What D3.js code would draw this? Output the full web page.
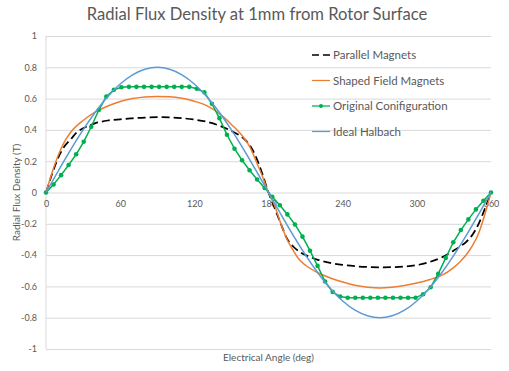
<!DOCTYPE html>
<html>
<head>
<meta charset="utf-8">
<script src="https://cdn.jsdelivr.net/npm/d3@7"></script>
<style>
  body { margin: 0; background: #fff; }
  text { font-family: Lato, "Open Sans", sans-serif; fill: #595959; }
</style>
</head>
<body>
<svg id="chart"></svg>
<script>
const width = 509;
const height = 371;
const plotLeft = 46, plotRight = 491, plotTop = 36, plotBottom = 349;

const xTicks = [0, 60, 120, 180, 240, 300, 360];
const yTicks = [-1, -0.8, -0.6, -0.4, -0.2, 0, 0.2, 0.4, 0.6, 0.8, 1];

// Parallel Magnets
const parallelAngle = [0, 5, 10, 15, 20, 25, 30, 40, 50, 60, 70, 80, 90, 100, 110, 120, 130, 140, 150, 155, 160, 165, 170, 175, 180,
    185, 190, 195, 200, 205, 210, 220, 230, 240, 250, 260, 270, 280, 290, 300, 310, 320, 330, 335, 340, 345, 350, 355, 360];
const parallelValue = [0, 0.12, 0.225, 0.295, 0.34, 0.385, 0.41, 0.443, 0.46, 0.468, 0.474, 0.479, 0.481, 0.48, 0.475, 0.466, 0.452, 0.428, 0.393, 0.372, 0.345, 0.3, 0.225, 0.12, 0,
    -0.1, -0.2, -0.295, -0.345, -0.378, -0.4, -0.43, -0.45, -0.463, -0.471, -0.476, -0.478, -0.477, -0.473, -0.464, -0.445, -0.415, -0.37, -0.345, -0.315, -0.27, -0.2, -0.105, 0];

// Shaped Field Magnets
const shapedAngle = [0, 5, 10, 15, 20, 30, 40, 50, 60, 70, 80, 90, 100, 110, 120, 130, 140, 150, 160, 165, 170, 175, 180,
    185, 190, 195, 200, 205, 210, 220, 230, 240, 250, 260, 270, 280, 290, 300, 310, 320, 330, 335, 340, 345, 350, 355, 360];
const shapedValue = [0, 0.13, 0.24, 0.325, 0.385, 0.46, 0.515, 0.553, 0.582, 0.6, 0.611, 0.614, 0.612, 0.602, 0.583, 0.555, 0.505, 0.435, 0.35, 0.29, 0.2, 0.105, 0,
    -0.085, -0.2, -0.3, -0.37, -0.43, -0.465, -0.513, -0.546, -0.572, -0.593, -0.605, -0.61, -0.605, -0.594, -0.578, -0.557, -0.53, -0.478, -0.442, -0.398, -0.34, -0.26, -0.14, 0];

// Original Conifiguration (60 samples)
const originalAngle = [0, 6.1, 12.2, 18.3, 24.4, 30.5, 36.6, 42.7, 48.8, 54.9, 61.0, 67.1, 73.2, 79.3, 85.4, 91.5, 97.6, 103.7, 109.8, 115.9,
    122.0, 128.1, 134.2, 140.3, 146.4, 152.5, 158.6, 164.7, 170.8, 176.9, 183.1, 189.2, 195.3, 201.4, 207.5, 213.6, 219.7, 225.8, 231.9, 238.0,
    244.1, 250.2, 256.3, 262.4, 268.5, 274.6, 280.7, 286.8, 292.9, 299.0, 305.1, 311.2, 317.3, 323.4, 329.5, 335.6, 341.7, 347.8, 353.9, 360];
const originalValue = [0, 0.051, 0.111, 0.176, 0.244, 0.324, 0.42, 0.527, 0.613, 0.656, 0.673, 0.675, 0.675, 0.675, 0.675, 0.675, 0.675, 0.675, 0.675, 0.675,
    0.663, 0.64, 0.567, 0.475, 0.369, 0.28, 0.206, 0.142, 0.083, 0.029, -0.028, -0.081, -0.14, -0.204, -0.282, -0.372, -0.469, -0.569, -0.635, -0.665,
    -0.673, -0.673, -0.673, -0.673, -0.673, -0.673, -0.673, -0.673, -0.673, -0.673, -0.65, -0.605, -0.52, -0.418, -0.318, -0.24, -0.172, -0.108, -0.053, 0];

// Ideal Halbach
const halbachAngle = [0, 10, 20, 30, 40, 50, 60, 70, 80, 90, 100, 110, 120, 130, 140, 150, 160, 170, 180,
    190, 200, 210, 220, 230, 240, 250, 260, 270, 280, 290, 300, 310, 320, 330, 340, 350, 360];
const halbachValue = [0, 0.139, 0.274, 0.4, 0.514, 0.613, 0.693, 0.752, 0.788, 0.8, 0.788, 0.752, 0.693, 0.613, 0.514, 0.4, 0.274, 0.139, 0,
    -0.139, -0.274, -0.4, -0.514, -0.613, -0.693, -0.752, -0.788, -0.8, -0.788, -0.752, -0.693, -0.613, -0.514, -0.4, -0.274, -0.139, 0];

const series = [
    {name: 'Parallel Magnets', angle: parallelAngle, value: parallelValue, color: '#000000', dash: '8,4', curve: d3.curveMonotoneX},
    {name: 'Shaped Field Magnets', angle: shapedAngle, value: shapedValue, color: '#ed7d31', dash: null, curve: d3.curveMonotoneX},
    {name: 'Original Conifiguration', angle: originalAngle, value: originalValue, color: '#00b050', dash: null, curve: d3.curveLinear, marker: true},
    {name: 'Ideal Halbach', angle: halbachAngle, value: halbachValue, color: '#5b9bd5', dash: null, curve: d3.curveMonotoneX}
];

const svg = d3.select('#chart').attr('width', width).attr('height', height);

const x = d3.scaleLinear().domain([0, 360]).range([plotLeft, plotRight]);
const y = d3.scaleLinear().domain([-1, 1]).range([plotBottom, plotTop]);

// gridlines + y labels
const yAxis = svg.append('g').attr('transform', `translate(${plotLeft}, 0)`)
    .call(d3.axisLeft(y).tickValues(yTicks).tickSize(-(plotRight - plotLeft)).tickPadding(9).tickFormat(d => d));
yAxis.select('.domain').remove();
yAxis.selectAll('line').attr('stroke', '#d9d9d9');
yAxis.selectAll('text').style('font-size', '9px').attr('fill', '#595959');

svg.append('line')
    .attr('x1', plotLeft).attr('x2', plotLeft).attr('y1', plotTop).attr('y2', plotBottom)
    .attr('stroke', '#d9d9d9');

// x labels sit just under the zero line
const xAxis = svg.append('g').attr('transform', `translate(0, ${y(0)})`)
    .call(d3.axisBottom(x).tickValues(xTicks).tickSize(0).tickPadding(8));
xAxis.select('.domain').remove();
xAxis.selectAll('text').style('font-size', '9px').attr('fill', '#595959');

series.forEach(s => {
    const pts = s.angle.map((a, i) => ({a: a, v: s.value[i]}));
    svg.append('path').datum(pts)
        .attr('fill', 'none')
        .attr('stroke', s.color)
        .attr('stroke-width', s.dash ? 1.75 : 1.5)
        .attr('stroke-dasharray', s.dash)
        .attr('d', d3.line().curve(s.curve).x(d => x(d.a)).y(d => y(d.v)));
    if (s.marker) {
        svg.append('g').selectAll('circle').data(pts).enter().append('circle')
            .attr('cx', d => x(d.a))
            .attr('cy', d => y(d.v))
            .attr('r', 2.3)
            .attr('fill', s.color);
    }
});

// legend
const legend = svg.append('g').attr('transform', 'translate(312, 55)');
series.forEach((s, i) => {
    const row = legend.append('g').attr('transform', `translate(0, ${i * 25.5})`);
    row.append('line')
        .attr('x1', 0).attr('x2', 18).attr('y1', 0).attr('y2', 0)
        .attr('stroke', s.color)
        .attr('stroke-width', s.dash ? 1.5 : 1.25)
        .attr('stroke-dasharray', s.dash ? '7,4' : null);
    if (s.marker) {
        row.append('circle').attr('cx', 9).attr('cy', 0).attr('r', 2).attr('fill', s.color);
    }
    row.append('text')
        .attr('x', 21).attr('y', 0).attr('dy', '0.35em')
        .style('font-size', '11.5px')
        .attr('fill', '#404040')
        .text(s.name);
});

svg.append('text')
    .attr('x', 257).attr('y', 20)
    .attr('text-anchor', 'middle')
    .style('font-size', '16.6px')
    .text('Radial Flux Density at 1mm from Rotor Surface');

svg.append('text')
    .attr('transform', `translate(16, ${(plotTop + plotBottom) / 2}) rotate(-90)`)
    .attr('text-anchor', 'middle')
    .attr('dy', '0.35em')
    .style('font-size', '10px')
    .text('Radial Flux Density (T)');

svg.append('text')
    .attr('x', 268.5).attr('y', 357)
    .attr('text-anchor', 'middle')
    .attr('dy', '0.35em')
    .style('font-size', '10px')
    .text('Electrical Angle (deg)');
</script>
</body>
</html>
